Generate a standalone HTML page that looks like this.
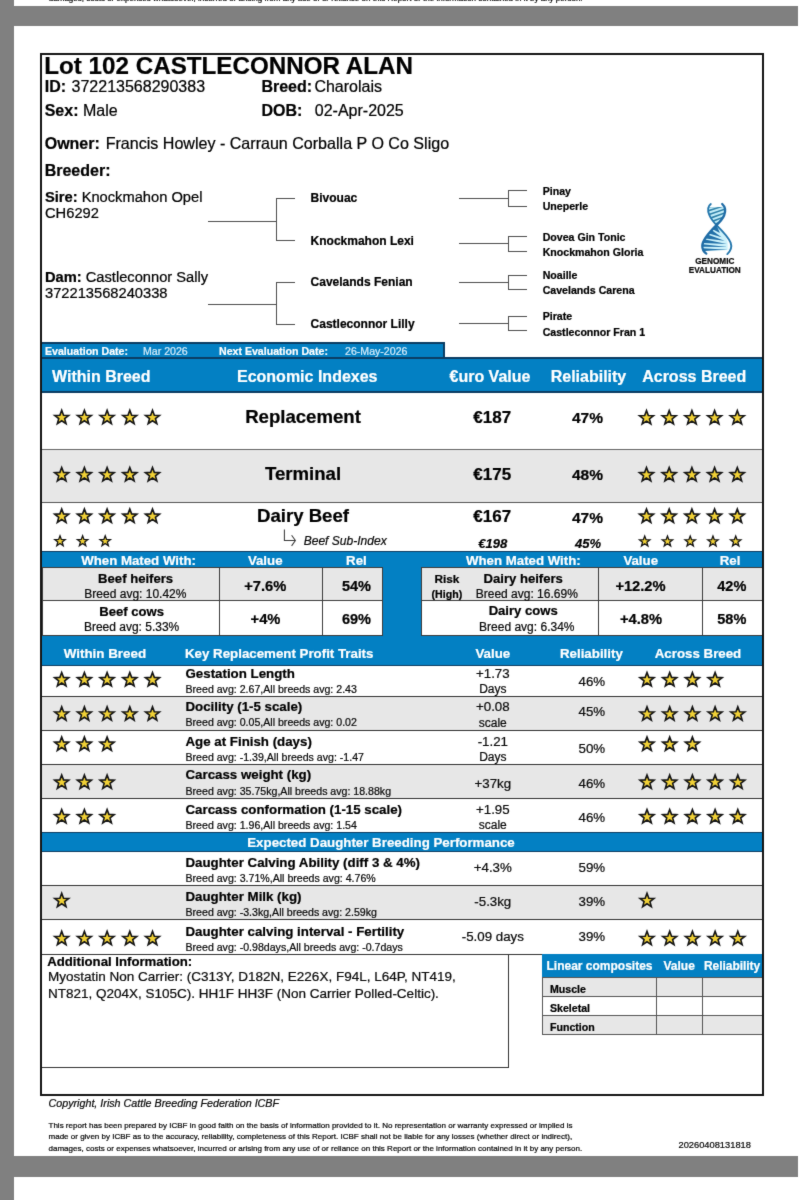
<!DOCTYPE html>
<html lang="en">
<head>
<meta charset="utf-8">
<title>Lot 102 CASTLECONNOR ALAN</title>
<style>
html,body{margin:0;padding:0;background:#fff;}
body{width:799px;height:1200px;position:relative;overflow:hidden;font-family:"Liberation Sans",sans-serif;color:#111;}
.a{position:absolute;}
.t{position:absolute;white-space:nowrap;line-height:1;}
svg{position:absolute;left:0;top:0;overflow:visible;}
#w{position:absolute;left:0;top:0;width:799px;height:1200px;filter:url(#soft);}
</style>
</head>
<body>
<svg width="0" height="0" style="position:absolute"><filter id="soft" filterUnits="userSpaceOnUse" x="-6" y="-6" width="811" height="1212" color-interpolation-filters="sRGB"><feConvolveMatrix order="3" kernelMatrix="0.015 0.07 0.015 0.07 0.66 0.07 0.015 0.07 0.015" edgeMode="duplicate" preserveAlpha="true"/></filter></svg>
<div id="w">
<div class="a" style="left:-8.00px;top:-8.00px;width:815.00px;height:1216.00px;background:#fff;"></div>
<div class="a" style="left:-8.00px;top:-8.00px;width:22.00px;height:1216.00px;background:#808080;"></div>
<div class="a" style="left:-8.00px;top:6.00px;width:806.00px;height:20.00px;background:#808080;"></div>
<div class="a" style="left:-8.00px;top:1156.00px;width:806.00px;height:21.00px;background:#808080;"></div>
<div class="a" style="left:14.00px;top:6.00px;width:784.00px;height:20.00px;background:#808080;"></div>
<div class="a" style="left:208.00px;top:221.00px;width:69.00px;height:1.00px;background:#4d4d4d;"></div>
<div class="a" style="left:276.00px;top:198.00px;width:1.00px;height:43.00px;background:#4d4d4d;"></div>
<div class="a" style="left:277.00px;top:198.00px;width:18.00px;height:1.00px;background:#4d4d4d;"></div>
<div class="a" style="left:277.00px;top:240.00px;width:18.00px;height:1.00px;background:#4d4d4d;"></div>
<div class="a" style="left:208.00px;top:304.00px;width:69.00px;height:1.00px;background:#4d4d4d;"></div>
<div class="a" style="left:276.00px;top:282.00px;width:1.00px;height:43.00px;background:#4d4d4d;"></div>
<div class="a" style="left:277.00px;top:282.00px;width:18.00px;height:1.00px;background:#4d4d4d;"></div>
<div class="a" style="left:277.00px;top:324.00px;width:18.00px;height:1.00px;background:#4d4d4d;"></div>
<div class="a" style="left:459.00px;top:198.00px;width:49.00px;height:1.00px;background:#4d4d4d;"></div>
<div class="a" style="left:508.00px;top:190.00px;width:1.00px;height:16.00px;background:#4d4d4d;"></div>
<div class="a" style="left:508.00px;top:190.00px;width:19.00px;height:1.00px;background:#4d4d4d;"></div>
<div class="a" style="left:508.00px;top:206.00px;width:19.00px;height:1.00px;background:#4d4d4d;"></div>
<div class="a" style="left:459.00px;top:243.00px;width:49.00px;height:1.00px;background:#4d4d4d;"></div>
<div class="a" style="left:508.00px;top:236.00px;width:1.00px;height:16.00px;background:#4d4d4d;"></div>
<div class="a" style="left:508.00px;top:236.00px;width:19.00px;height:1.00px;background:#4d4d4d;"></div>
<div class="a" style="left:508.00px;top:251.00px;width:19.00px;height:1.00px;background:#4d4d4d;"></div>
<div class="a" style="left:459.00px;top:282.00px;width:49.00px;height:1.00px;background:#4d4d4d;"></div>
<div class="a" style="left:508.00px;top:275.00px;width:1.00px;height:15.00px;background:#4d4d4d;"></div>
<div class="a" style="left:508.00px;top:275.00px;width:19.00px;height:1.00px;background:#4d4d4d;"></div>
<div class="a" style="left:508.00px;top:289.00px;width:19.00px;height:1.00px;background:#4d4d4d;"></div>
<div class="a" style="left:459.00px;top:323.00px;width:49.00px;height:1.00px;background:#4d4d4d;"></div>
<div class="a" style="left:508.00px;top:316.00px;width:1.00px;height:15.00px;background:#4d4d4d;"></div>
<div class="a" style="left:508.00px;top:316.00px;width:19.00px;height:1.00px;background:#4d4d4d;"></div>
<div class="a" style="left:508.00px;top:330.00px;width:19.00px;height:1.00px;background:#4d4d4d;"></div>
<div class="a" style="left:42.00px;top:342.00px;width:403.00px;height:17.00px;background:#0b3d63;"></div>
<div class="a" style="left:42.00px;top:344.00px;width:401.00px;height:13.00px;background:#0380c3;"></div>
<div class="a" style="left:42.00px;top:358.00px;width:721.00px;height:35.00px;background:#0380c3;"></div>
<div class="a" style="left:42.00px;top:357.00px;width:721.00px;height:1.50px;background:#0b3d63;"></div>
<div class="a" style="left:42.00px;top:391.00px;width:721.00px;height:2.00px;background:#0b3d63;"></div>
<div class="a" style="left:42.00px;top:449.00px;width:720.00px;height:53.00px;background:#e7e7e7;"></div>
<div class="a" style="left:42.00px;top:449.00px;width:720.00px;height:1.00px;background:#666;"></div>
<div class="a" style="left:42.00px;top:502.00px;width:720.00px;height:1.00px;background:#555;"></div>
<div class="a" style="left:42.00px;top:551.00px;width:721.00px;height:115.00px;background:#0380c3;"></div>
<div class="a" style="left:42.00px;top:551.00px;width:721.00px;height:1.00px;background:#0b3d63;"></div>
<div class="a" style="left:42.00px;top:567.00px;width:340.00px;height:33.00px;background:#e7e7e7;"></div>
<div class="a" style="left:42.00px;top:600.00px;width:340.00px;height:35.00px;background:#fff;"></div>
<div class="a" style="left:42.00px;top:567.00px;width:341.00px;height:1.00px;background:#3c3c3c;"></div>
<div class="a" style="left:42.00px;top:600.00px;width:341.00px;height:1.00px;background:#3c3c3c;"></div>
<div class="a" style="left:42.00px;top:635.00px;width:341.00px;height:1.00px;background:#3c3c3c;"></div>
<div class="a" style="left:42.00px;top:567.00px;width:1.00px;height:69.00px;background:#3c3c3c;"></div>
<div class="a" style="left:219.00px;top:567.00px;width:1.00px;height:69.00px;background:#3c3c3c;"></div>
<div class="a" style="left:322.00px;top:567.00px;width:1.00px;height:69.00px;background:#3c3c3c;"></div>
<div class="a" style="left:382.00px;top:567.00px;width:1.00px;height:69.00px;background:#3c3c3c;"></div>
<div class="a" style="left:421.00px;top:567.00px;width:341.00px;height:33.00px;background:#e7e7e7;"></div>
<div class="a" style="left:421.00px;top:600.00px;width:341.00px;height:35.00px;background:#fff;"></div>
<div class="a" style="left:421.00px;top:567.00px;width:342.00px;height:1.00px;background:#3c3c3c;"></div>
<div class="a" style="left:421.00px;top:600.00px;width:342.00px;height:1.00px;background:#3c3c3c;"></div>
<div class="a" style="left:421.00px;top:635.00px;width:342.00px;height:1.00px;background:#3c3c3c;"></div>
<div class="a" style="left:421.00px;top:567.00px;width:1.00px;height:69.00px;background:#3c3c3c;"></div>
<div class="a" style="left:598.00px;top:567.00px;width:1.00px;height:69.00px;background:#3c3c3c;"></div>
<div class="a" style="left:702.00px;top:567.00px;width:1.00px;height:69.00px;background:#3c3c3c;"></div>
<div class="a" style="left:762.00px;top:567.00px;width:1.00px;height:69.00px;background:#3c3c3c;"></div>
<div class="a" style="left:42.00px;top:665.50px;width:720.00px;height:167.00px;background:#fff;"></div>
<div class="a" style="left:42.00px;top:696.30px;width:720.00px;height:33.80px;background:#e7e7e7;"></div>
<div class="a" style="left:42.00px;top:764.50px;width:720.00px;height:33.90px;background:#e7e7e7;"></div>
<div class="a" style="left:42.00px;top:696.00px;width:720.00px;height:1.00px;background:#333;"></div>
<div class="a" style="left:42.00px;top:730.00px;width:720.00px;height:1.00px;background:#333;"></div>
<div class="a" style="left:42.00px;top:764.00px;width:720.00px;height:1.00px;background:#333;"></div>
<div class="a" style="left:42.00px;top:798.00px;width:720.00px;height:1.00px;background:#333;"></div>
<div class="a" style="left:42.00px;top:665.00px;width:720.00px;height:1.00px;background:#0b3d63;"></div>
<div class="a" style="left:42.00px;top:832.00px;width:721.00px;height:20.00px;background:#0380c3;"></div>
<div class="a" style="left:42.00px;top:832.00px;width:721.00px;height:1.00px;background:#0b3d63;"></div>
<div class="a" style="left:42.00px;top:851.00px;width:721.00px;height:1.00px;background:#0b3d63;"></div>
<div class="a" style="left:42.00px;top:885.90px;width:720.00px;height:34.00px;background:#e7e7e7;"></div>
<div class="a" style="left:42.00px;top:885.00px;width:720.00px;height:1.00px;background:#333;"></div>
<div class="a" style="left:42.00px;top:919.00px;width:720.00px;height:1.00px;background:#333;"></div>
<div class="a" style="left:42.00px;top:954.00px;width:720.00px;height:1.00px;background:#333;"></div>
<div class="a" style="left:508.00px;top:954.00px;width:1.00px;height:114.00px;background:#333;"></div>
<div class="a" style="left:42.00px;top:1067.00px;width:467.00px;height:1.00px;background:#333;"></div>
<div class="a" style="left:542.00px;top:954.00px;width:221.00px;height:23.50px;background:#0380c3;"></div>
<div class="a" style="left:542.00px;top:977.00px;width:220.00px;height:19.00px;background:#e7e7e7;"></div>
<div class="a" style="left:542.00px;top:996.00px;width:220.00px;height:19.00px;background:#fff;"></div>
<div class="a" style="left:542.00px;top:1015.00px;width:220.00px;height:19.00px;background:#e7e7e7;"></div>
<div class="a" style="left:542.00px;top:977.00px;width:221.00px;height:1.00px;background:#555;"></div>
<div class="a" style="left:542.00px;top:996.00px;width:221.00px;height:1.00px;background:#555;"></div>
<div class="a" style="left:542.00px;top:1015.00px;width:221.00px;height:1.00px;background:#555;"></div>
<div class="a" style="left:542.00px;top:1034.00px;width:221.00px;height:1.00px;background:#555;"></div>
<div class="a" style="left:542.00px;top:977.00px;width:1.00px;height:58.00px;background:#555;"></div>
<div class="a" style="left:656.00px;top:977.00px;width:1.00px;height:58.00px;background:#555;"></div>
<div class="a" style="left:702.00px;top:977.00px;width:1.00px;height:58.00px;background:#555;"></div>
<div class="a" style="left:762.00px;top:977.00px;width:1.00px;height:58.00px;background:#555;"></div>
<div class="a" style="left:40.00px;top:53.00px;width:724.00px;height:1043.00px;border:2px solid #151515;box-sizing:border-box;"></div>
<svg width="799" height="1200" viewBox="0 0 799 1200" font-family="Liberation Sans, sans-serif" fill="#000">
<path d="M284.4 529.4 V540.5 H295.0 M291.6 535.2 L295.4 540.5 L291.6 545.9" fill="none" stroke="#3a3a3a" stroke-width="1.05"/>
<polygon points="61.70,410.31 63.53,415.19 68.74,415.42 64.66,418.67 66.05,423.69 61.70,420.81 57.35,423.69 58.74,418.67 54.66,415.42 59.87,415.19" fill="#f1d136" stroke="#141414" stroke-width="1.6" stroke-linejoin="miter"/>
<polygon points="84.40,410.31 86.23,415.19 91.44,415.42 87.36,418.67 88.75,423.69 84.40,420.81 80.05,423.69 81.44,418.67 77.36,415.42 82.57,415.19" fill="#f1d136" stroke="#141414" stroke-width="1.6" stroke-linejoin="miter"/>
<polygon points="107.10,410.31 108.93,415.19 114.14,415.42 110.06,418.67 111.45,423.69 107.10,420.81 102.75,423.69 104.14,418.67 100.06,415.42 105.27,415.19" fill="#f1d136" stroke="#141414" stroke-width="1.6" stroke-linejoin="miter"/>
<polygon points="129.80,410.31 131.63,415.19 136.84,415.42 132.76,418.67 134.15,423.69 129.80,420.81 125.45,423.69 126.84,418.67 122.76,415.42 127.97,415.19" fill="#f1d136" stroke="#141414" stroke-width="1.6" stroke-linejoin="miter"/>
<polygon points="152.50,410.31 154.33,415.19 159.54,415.42 155.46,418.67 156.85,423.69 152.50,420.81 148.15,423.69 149.54,418.67 145.46,415.42 150.67,415.19" fill="#f1d136" stroke="#141414" stroke-width="1.6" stroke-linejoin="miter"/>
<polygon points="646.50,410.61 648.33,415.49 653.54,415.72 649.46,418.97 650.85,423.99 646.50,421.11 642.15,423.99 643.54,418.97 639.46,415.72 644.67,415.49" fill="#f1d136" stroke="#141414" stroke-width="1.6" stroke-linejoin="miter"/>
<polygon points="669.20,410.61 671.03,415.49 676.24,415.72 672.16,418.97 673.55,423.99 669.20,421.11 664.85,423.99 666.24,418.97 662.16,415.72 667.37,415.49" fill="#f1d136" stroke="#141414" stroke-width="1.6" stroke-linejoin="miter"/>
<polygon points="691.90,410.61 693.73,415.49 698.94,415.72 694.86,418.97 696.25,423.99 691.90,421.11 687.55,423.99 688.94,418.97 684.86,415.72 690.07,415.49" fill="#f1d136" stroke="#141414" stroke-width="1.6" stroke-linejoin="miter"/>
<polygon points="714.60,410.61 716.43,415.49 721.64,415.72 717.56,418.97 718.95,423.99 714.60,421.11 710.25,423.99 711.64,418.97 707.56,415.72 712.77,415.49" fill="#f1d136" stroke="#141414" stroke-width="1.6" stroke-linejoin="miter"/>
<polygon points="737.30,410.61 739.13,415.49 744.34,415.72 740.26,418.97 741.65,423.99 737.30,421.11 732.95,423.99 734.34,418.97 730.26,415.72 735.47,415.49" fill="#f1d136" stroke="#141414" stroke-width="1.6" stroke-linejoin="miter"/>
<polygon points="61.70,467.51 63.53,472.39 68.74,472.62 64.66,475.87 66.05,480.89 61.70,478.01 57.35,480.89 58.74,475.87 54.66,472.62 59.87,472.39" fill="#f1d136" stroke="#141414" stroke-width="1.6" stroke-linejoin="miter"/>
<polygon points="84.40,467.51 86.23,472.39 91.44,472.62 87.36,475.87 88.75,480.89 84.40,478.01 80.05,480.89 81.44,475.87 77.36,472.62 82.57,472.39" fill="#f1d136" stroke="#141414" stroke-width="1.6" stroke-linejoin="miter"/>
<polygon points="107.10,467.51 108.93,472.39 114.14,472.62 110.06,475.87 111.45,480.89 107.10,478.01 102.75,480.89 104.14,475.87 100.06,472.62 105.27,472.39" fill="#f1d136" stroke="#141414" stroke-width="1.6" stroke-linejoin="miter"/>
<polygon points="129.80,467.51 131.63,472.39 136.84,472.62 132.76,475.87 134.15,480.89 129.80,478.01 125.45,480.89 126.84,475.87 122.76,472.62 127.97,472.39" fill="#f1d136" stroke="#141414" stroke-width="1.6" stroke-linejoin="miter"/>
<polygon points="152.50,467.51 154.33,472.39 159.54,472.62 155.46,475.87 156.85,480.89 152.50,478.01 148.15,480.89 149.54,475.87 145.46,472.62 150.67,472.39" fill="#f1d136" stroke="#141414" stroke-width="1.6" stroke-linejoin="miter"/>
<polygon points="646.50,467.51 648.33,472.39 653.54,472.62 649.46,475.87 650.85,480.89 646.50,478.01 642.15,480.89 643.54,475.87 639.46,472.62 644.67,472.39" fill="#f1d136" stroke="#141414" stroke-width="1.6" stroke-linejoin="miter"/>
<polygon points="669.20,467.51 671.03,472.39 676.24,472.62 672.16,475.87 673.55,480.89 669.20,478.01 664.85,480.89 666.24,475.87 662.16,472.62 667.37,472.39" fill="#f1d136" stroke="#141414" stroke-width="1.6" stroke-linejoin="miter"/>
<polygon points="691.90,467.51 693.73,472.39 698.94,472.62 694.86,475.87 696.25,480.89 691.90,478.01 687.55,480.89 688.94,475.87 684.86,472.62 690.07,472.39" fill="#f1d136" stroke="#141414" stroke-width="1.6" stroke-linejoin="miter"/>
<polygon points="714.60,467.51 716.43,472.39 721.64,472.62 717.56,475.87 718.95,480.89 714.60,478.01 710.25,480.89 711.64,475.87 707.56,472.62 712.77,472.39" fill="#f1d136" stroke="#141414" stroke-width="1.6" stroke-linejoin="miter"/>
<polygon points="737.30,467.51 739.13,472.39 744.34,472.62 740.26,475.87 741.65,480.89 737.30,478.01 732.95,480.89 734.34,475.87 730.26,472.62 735.47,472.39" fill="#f1d136" stroke="#141414" stroke-width="1.6" stroke-linejoin="miter"/>
<polygon points="61.70,509.01 63.53,513.89 68.74,514.12 64.66,517.37 66.05,522.39 61.70,519.51 57.35,522.39 58.74,517.37 54.66,514.12 59.87,513.89" fill="#f1d136" stroke="#141414" stroke-width="1.6" stroke-linejoin="miter"/>
<polygon points="84.40,509.01 86.23,513.89 91.44,514.12 87.36,517.37 88.75,522.39 84.40,519.51 80.05,522.39 81.44,517.37 77.36,514.12 82.57,513.89" fill="#f1d136" stroke="#141414" stroke-width="1.6" stroke-linejoin="miter"/>
<polygon points="107.10,509.01 108.93,513.89 114.14,514.12 110.06,517.37 111.45,522.39 107.10,519.51 102.75,522.39 104.14,517.37 100.06,514.12 105.27,513.89" fill="#f1d136" stroke="#141414" stroke-width="1.6" stroke-linejoin="miter"/>
<polygon points="129.80,509.01 131.63,513.89 136.84,514.12 132.76,517.37 134.15,522.39 129.80,519.51 125.45,522.39 126.84,517.37 122.76,514.12 127.97,513.89" fill="#f1d136" stroke="#141414" stroke-width="1.6" stroke-linejoin="miter"/>
<polygon points="152.50,509.01 154.33,513.89 159.54,514.12 155.46,517.37 156.85,522.39 152.50,519.51 148.15,522.39 149.54,517.37 145.46,514.12 150.67,513.89" fill="#f1d136" stroke="#141414" stroke-width="1.6" stroke-linejoin="miter"/>
<polygon points="646.50,509.01 648.33,513.89 653.54,514.12 649.46,517.37 650.85,522.39 646.50,519.51 642.15,522.39 643.54,517.37 639.46,514.12 644.67,513.89" fill="#f1d136" stroke="#141414" stroke-width="1.6" stroke-linejoin="miter"/>
<polygon points="669.20,509.01 671.03,513.89 676.24,514.12 672.16,517.37 673.55,522.39 669.20,519.51 664.85,522.39 666.24,517.37 662.16,514.12 667.37,513.89" fill="#f1d136" stroke="#141414" stroke-width="1.6" stroke-linejoin="miter"/>
<polygon points="691.90,509.01 693.73,513.89 698.94,514.12 694.86,517.37 696.25,522.39 691.90,519.51 687.55,522.39 688.94,517.37 684.86,514.12 690.07,513.89" fill="#f1d136" stroke="#141414" stroke-width="1.6" stroke-linejoin="miter"/>
<polygon points="714.60,509.01 716.43,513.89 721.64,514.12 717.56,517.37 718.95,522.39 714.60,519.51 710.25,522.39 711.64,517.37 707.56,514.12 712.77,513.89" fill="#f1d136" stroke="#141414" stroke-width="1.6" stroke-linejoin="miter"/>
<polygon points="737.30,509.01 739.13,513.89 744.34,514.12 740.26,517.37 741.65,522.39 737.30,519.51 732.95,522.39 734.34,517.37 730.26,514.12 735.47,513.89" fill="#f1d136" stroke="#141414" stroke-width="1.6" stroke-linejoin="miter"/>
<polygon points="60.00,535.77 61.35,539.37 65.18,539.54 62.18,541.93 63.20,545.63 60.00,543.51 56.80,545.63 57.82,541.93 54.82,539.54 58.65,539.37" fill="#f1d136" stroke="#141414" stroke-width="1.3" stroke-linejoin="miter"/>
<polygon points="82.60,535.77 83.95,539.37 87.78,539.54 84.78,541.93 85.80,545.63 82.60,543.51 79.40,545.63 80.42,541.93 77.42,539.54 81.25,539.37" fill="#f1d136" stroke="#141414" stroke-width="1.3" stroke-linejoin="miter"/>
<polygon points="105.20,535.77 106.55,539.37 110.38,539.54 107.38,541.93 108.40,545.63 105.20,543.51 102.00,545.63 103.02,541.93 100.02,539.54 103.85,539.37" fill="#f1d136" stroke="#141414" stroke-width="1.3" stroke-linejoin="miter"/>
<polygon points="644.70,536.07 646.05,539.67 649.88,539.84 646.88,542.23 647.90,545.93 644.70,543.81 641.50,545.93 642.52,542.23 639.52,539.84 643.35,539.67" fill="#f1d136" stroke="#141414" stroke-width="1.3" stroke-linejoin="miter"/>
<polygon points="667.45,536.07 668.80,539.67 672.63,539.84 669.63,542.23 670.65,545.93 667.45,543.81 664.25,545.93 665.27,542.23 662.27,539.84 666.10,539.67" fill="#f1d136" stroke="#141414" stroke-width="1.3" stroke-linejoin="miter"/>
<polygon points="690.20,536.07 691.55,539.67 695.38,539.84 692.38,542.23 693.40,545.93 690.20,543.81 687.00,545.93 688.02,542.23 685.02,539.84 688.85,539.67" fill="#f1d136" stroke="#141414" stroke-width="1.3" stroke-linejoin="miter"/>
<polygon points="712.95,536.07 714.30,539.67 718.13,539.84 715.13,542.23 716.15,545.93 712.95,543.81 709.75,545.93 710.77,542.23 707.77,539.84 711.60,539.67" fill="#f1d136" stroke="#141414" stroke-width="1.3" stroke-linejoin="miter"/>
<polygon points="735.70,536.07 737.05,539.67 740.88,539.84 737.88,542.23 738.90,545.93 735.70,543.81 732.50,545.93 733.52,542.23 730.52,539.84 734.35,539.67" fill="#f1d136" stroke="#141414" stroke-width="1.3" stroke-linejoin="miter"/>
<polygon points="61.70,672.51 63.53,677.39 68.74,677.62 64.66,680.87 66.05,685.89 61.70,683.01 57.35,685.89 58.74,680.87 54.66,677.62 59.87,677.39" fill="#f1d136" stroke="#141414" stroke-width="1.6" stroke-linejoin="miter"/>
<polygon points="84.40,672.51 86.23,677.39 91.44,677.62 87.36,680.87 88.75,685.89 84.40,683.01 80.05,685.89 81.44,680.87 77.36,677.62 82.57,677.39" fill="#f1d136" stroke="#141414" stroke-width="1.6" stroke-linejoin="miter"/>
<polygon points="107.10,672.51 108.93,677.39 114.14,677.62 110.06,680.87 111.45,685.89 107.10,683.01 102.75,685.89 104.14,680.87 100.06,677.62 105.27,677.39" fill="#f1d136" stroke="#141414" stroke-width="1.6" stroke-linejoin="miter"/>
<polygon points="129.80,672.51 131.63,677.39 136.84,677.62 132.76,680.87 134.15,685.89 129.80,683.01 125.45,685.89 126.84,680.87 122.76,677.62 127.97,677.39" fill="#f1d136" stroke="#141414" stroke-width="1.6" stroke-linejoin="miter"/>
<polygon points="152.50,672.51 154.33,677.39 159.54,677.62 155.46,680.87 156.85,685.89 152.50,683.01 148.15,685.89 149.54,680.87 145.46,677.62 150.67,677.39" fill="#f1d136" stroke="#141414" stroke-width="1.6" stroke-linejoin="miter"/>
<polygon points="647.00,672.51 648.83,677.39 654.04,677.62 649.96,680.87 651.35,685.89 647.00,683.01 642.65,685.89 644.04,680.87 639.96,677.62 645.17,677.39" fill="#f1d136" stroke="#141414" stroke-width="1.6" stroke-linejoin="miter"/>
<polygon points="669.70,672.51 671.53,677.39 676.74,677.62 672.66,680.87 674.05,685.89 669.70,683.01 665.35,685.89 666.74,680.87 662.66,677.62 667.87,677.39" fill="#f1d136" stroke="#141414" stroke-width="1.6" stroke-linejoin="miter"/>
<polygon points="692.40,672.51 694.23,677.39 699.44,677.62 695.36,680.87 696.75,685.89 692.40,683.01 688.05,685.89 689.44,680.87 685.36,677.62 690.57,677.39" fill="#f1d136" stroke="#141414" stroke-width="1.6" stroke-linejoin="miter"/>
<polygon points="715.10,672.51 716.93,677.39 722.14,677.62 718.06,680.87 719.45,685.89 715.10,683.01 710.75,685.89 712.14,680.87 708.06,677.62 713.27,677.39" fill="#f1d136" stroke="#141414" stroke-width="1.6" stroke-linejoin="miter"/>
<polygon points="61.70,706.81 63.53,711.69 68.74,711.92 64.66,715.17 66.05,720.19 61.70,717.31 57.35,720.19 58.74,715.17 54.66,711.92 59.87,711.69" fill="#f1d136" stroke="#141414" stroke-width="1.6" stroke-linejoin="miter"/>
<polygon points="84.40,706.81 86.23,711.69 91.44,711.92 87.36,715.17 88.75,720.19 84.40,717.31 80.05,720.19 81.44,715.17 77.36,711.92 82.57,711.69" fill="#f1d136" stroke="#141414" stroke-width="1.6" stroke-linejoin="miter"/>
<polygon points="107.10,706.81 108.93,711.69 114.14,711.92 110.06,715.17 111.45,720.19 107.10,717.31 102.75,720.19 104.14,715.17 100.06,711.92 105.27,711.69" fill="#f1d136" stroke="#141414" stroke-width="1.6" stroke-linejoin="miter"/>
<polygon points="129.80,706.81 131.63,711.69 136.84,711.92 132.76,715.17 134.15,720.19 129.80,717.31 125.45,720.19 126.84,715.17 122.76,711.92 127.97,711.69" fill="#f1d136" stroke="#141414" stroke-width="1.6" stroke-linejoin="miter"/>
<polygon points="152.50,706.81 154.33,711.69 159.54,711.92 155.46,715.17 156.85,720.19 152.50,717.31 148.15,720.19 149.54,715.17 145.46,711.92 150.67,711.69" fill="#f1d136" stroke="#141414" stroke-width="1.6" stroke-linejoin="miter"/>
<polygon points="647.00,706.81 648.83,711.69 654.04,711.92 649.96,715.17 651.35,720.19 647.00,717.31 642.65,720.19 644.04,715.17 639.96,711.92 645.17,711.69" fill="#f1d136" stroke="#141414" stroke-width="1.6" stroke-linejoin="miter"/>
<polygon points="669.70,706.81 671.53,711.69 676.74,711.92 672.66,715.17 674.05,720.19 669.70,717.31 665.35,720.19 666.74,715.17 662.66,711.92 667.87,711.69" fill="#f1d136" stroke="#141414" stroke-width="1.6" stroke-linejoin="miter"/>
<polygon points="692.40,706.81 694.23,711.69 699.44,711.92 695.36,715.17 696.75,720.19 692.40,717.31 688.05,720.19 689.44,715.17 685.36,711.92 690.57,711.69" fill="#f1d136" stroke="#141414" stroke-width="1.6" stroke-linejoin="miter"/>
<polygon points="715.10,706.81 716.93,711.69 722.14,711.92 718.06,715.17 719.45,720.19 715.10,717.31 710.75,720.19 712.14,715.17 708.06,711.92 713.27,711.69" fill="#f1d136" stroke="#141414" stroke-width="1.6" stroke-linejoin="miter"/>
<polygon points="737.80,706.81 739.63,711.69 744.84,711.92 740.76,715.17 742.15,720.19 737.80,717.31 733.45,720.19 734.84,715.17 730.76,711.92 735.97,711.69" fill="#f1d136" stroke="#141414" stroke-width="1.6" stroke-linejoin="miter"/>
<polygon points="61.70,737.01 63.53,741.89 68.74,742.12 64.66,745.37 66.05,750.39 61.70,747.51 57.35,750.39 58.74,745.37 54.66,742.12 59.87,741.89" fill="#f1d136" stroke="#141414" stroke-width="1.6" stroke-linejoin="miter"/>
<polygon points="84.40,737.01 86.23,741.89 91.44,742.12 87.36,745.37 88.75,750.39 84.40,747.51 80.05,750.39 81.44,745.37 77.36,742.12 82.57,741.89" fill="#f1d136" stroke="#141414" stroke-width="1.6" stroke-linejoin="miter"/>
<polygon points="107.10,737.01 108.93,741.89 114.14,742.12 110.06,745.37 111.45,750.39 107.10,747.51 102.75,750.39 104.14,745.37 100.06,742.12 105.27,741.89" fill="#f1d136" stroke="#141414" stroke-width="1.6" stroke-linejoin="miter"/>
<polygon points="647.00,737.01 648.83,741.89 654.04,742.12 649.96,745.37 651.35,750.39 647.00,747.51 642.65,750.39 644.04,745.37 639.96,742.12 645.17,741.89" fill="#f1d136" stroke="#141414" stroke-width="1.6" stroke-linejoin="miter"/>
<polygon points="669.70,737.01 671.53,741.89 676.74,742.12 672.66,745.37 674.05,750.39 669.70,747.51 665.35,750.39 666.74,745.37 662.66,742.12 667.87,741.89" fill="#f1d136" stroke="#141414" stroke-width="1.6" stroke-linejoin="miter"/>
<polygon points="692.40,737.01 694.23,741.89 699.44,742.12 695.36,745.37 696.75,750.39 692.40,747.51 688.05,750.39 689.44,745.37 685.36,742.12 690.57,741.89" fill="#f1d136" stroke="#141414" stroke-width="1.6" stroke-linejoin="miter"/>
<polygon points="61.70,775.01 63.53,779.89 68.74,780.12 64.66,783.37 66.05,788.39 61.70,785.51 57.35,788.39 58.74,783.37 54.66,780.12 59.87,779.89" fill="#f1d136" stroke="#141414" stroke-width="1.6" stroke-linejoin="miter"/>
<polygon points="84.40,775.01 86.23,779.89 91.44,780.12 87.36,783.37 88.75,788.39 84.40,785.51 80.05,788.39 81.44,783.37 77.36,780.12 82.57,779.89" fill="#f1d136" stroke="#141414" stroke-width="1.6" stroke-linejoin="miter"/>
<polygon points="107.10,775.01 108.93,779.89 114.14,780.12 110.06,783.37 111.45,788.39 107.10,785.51 102.75,788.39 104.14,783.37 100.06,780.12 105.27,779.89" fill="#f1d136" stroke="#141414" stroke-width="1.6" stroke-linejoin="miter"/>
<polygon points="647.00,775.01 648.83,779.89 654.04,780.12 649.96,783.37 651.35,788.39 647.00,785.51 642.65,788.39 644.04,783.37 639.96,780.12 645.17,779.89" fill="#f1d136" stroke="#141414" stroke-width="1.6" stroke-linejoin="miter"/>
<polygon points="669.70,775.01 671.53,779.89 676.74,780.12 672.66,783.37 674.05,788.39 669.70,785.51 665.35,788.39 666.74,783.37 662.66,780.12 667.87,779.89" fill="#f1d136" stroke="#141414" stroke-width="1.6" stroke-linejoin="miter"/>
<polygon points="692.40,775.01 694.23,779.89 699.44,780.12 695.36,783.37 696.75,788.39 692.40,785.51 688.05,788.39 689.44,783.37 685.36,780.12 690.57,779.89" fill="#f1d136" stroke="#141414" stroke-width="1.6" stroke-linejoin="miter"/>
<polygon points="715.10,775.01 716.93,779.89 722.14,780.12 718.06,783.37 719.45,788.39 715.10,785.51 710.75,788.39 712.14,783.37 708.06,780.12 713.27,779.89" fill="#f1d136" stroke="#141414" stroke-width="1.6" stroke-linejoin="miter"/>
<polygon points="737.80,775.01 739.63,779.89 744.84,780.12 740.76,783.37 742.15,788.39 737.80,785.51 733.45,788.39 734.84,783.37 730.76,780.12 735.97,779.89" fill="#f1d136" stroke="#141414" stroke-width="1.6" stroke-linejoin="miter"/>
<polygon points="61.70,809.51 63.53,814.39 68.74,814.62 64.66,817.87 66.05,822.89 61.70,820.01 57.35,822.89 58.74,817.87 54.66,814.62 59.87,814.39" fill="#f1d136" stroke="#141414" stroke-width="1.6" stroke-linejoin="miter"/>
<polygon points="84.40,809.51 86.23,814.39 91.44,814.62 87.36,817.87 88.75,822.89 84.40,820.01 80.05,822.89 81.44,817.87 77.36,814.62 82.57,814.39" fill="#f1d136" stroke="#141414" stroke-width="1.6" stroke-linejoin="miter"/>
<polygon points="107.10,809.51 108.93,814.39 114.14,814.62 110.06,817.87 111.45,822.89 107.10,820.01 102.75,822.89 104.14,817.87 100.06,814.62 105.27,814.39" fill="#f1d136" stroke="#141414" stroke-width="1.6" stroke-linejoin="miter"/>
<polygon points="647.00,809.51 648.83,814.39 654.04,814.62 649.96,817.87 651.35,822.89 647.00,820.01 642.65,822.89 644.04,817.87 639.96,814.62 645.17,814.39" fill="#f1d136" stroke="#141414" stroke-width="1.6" stroke-linejoin="miter"/>
<polygon points="669.70,809.51 671.53,814.39 676.74,814.62 672.66,817.87 674.05,822.89 669.70,820.01 665.35,822.89 666.74,817.87 662.66,814.62 667.87,814.39" fill="#f1d136" stroke="#141414" stroke-width="1.6" stroke-linejoin="miter"/>
<polygon points="692.40,809.51 694.23,814.39 699.44,814.62 695.36,817.87 696.75,822.89 692.40,820.01 688.05,822.89 689.44,817.87 685.36,814.62 690.57,814.39" fill="#f1d136" stroke="#141414" stroke-width="1.6" stroke-linejoin="miter"/>
<polygon points="715.10,809.51 716.93,814.39 722.14,814.62 718.06,817.87 719.45,822.89 715.10,820.01 710.75,822.89 712.14,817.87 708.06,814.62 713.27,814.39" fill="#f1d136" stroke="#141414" stroke-width="1.6" stroke-linejoin="miter"/>
<polygon points="737.80,809.51 739.63,814.39 744.84,814.62 740.76,817.87 742.15,822.89 737.80,820.01 733.45,822.89 734.84,817.87 730.76,814.62 735.97,814.39" fill="#f1d136" stroke="#141414" stroke-width="1.6" stroke-linejoin="miter"/>
<polygon points="61.70,893.31 63.53,898.19 68.74,898.42 64.66,901.67 66.05,906.69 61.70,903.81 57.35,906.69 58.74,901.67 54.66,898.42 59.87,898.19" fill="#f1d136" stroke="#141414" stroke-width="1.6" stroke-linejoin="miter"/>
<polygon points="647.00,893.31 648.83,898.19 654.04,898.42 649.96,901.67 651.35,906.69 647.00,903.81 642.65,906.69 644.04,901.67 639.96,898.42 645.17,898.19" fill="#f1d136" stroke="#141414" stroke-width="1.6" stroke-linejoin="miter"/>
<polygon points="61.70,931.31 63.53,936.19 68.74,936.42 64.66,939.67 66.05,944.69 61.70,941.81 57.35,944.69 58.74,939.67 54.66,936.42 59.87,936.19" fill="#f1d136" stroke="#141414" stroke-width="1.6" stroke-linejoin="miter"/>
<polygon points="84.40,931.31 86.23,936.19 91.44,936.42 87.36,939.67 88.75,944.69 84.40,941.81 80.05,944.69 81.44,939.67 77.36,936.42 82.57,936.19" fill="#f1d136" stroke="#141414" stroke-width="1.6" stroke-linejoin="miter"/>
<polygon points="107.10,931.31 108.93,936.19 114.14,936.42 110.06,939.67 111.45,944.69 107.10,941.81 102.75,944.69 104.14,939.67 100.06,936.42 105.27,936.19" fill="#f1d136" stroke="#141414" stroke-width="1.6" stroke-linejoin="miter"/>
<polygon points="129.80,931.31 131.63,936.19 136.84,936.42 132.76,939.67 134.15,944.69 129.80,941.81 125.45,944.69 126.84,939.67 122.76,936.42 127.97,936.19" fill="#f1d136" stroke="#141414" stroke-width="1.6" stroke-linejoin="miter"/>
<polygon points="152.50,931.31 154.33,936.19 159.54,936.42 155.46,939.67 156.85,944.69 152.50,941.81 148.15,944.69 149.54,939.67 145.46,936.42 150.67,936.19" fill="#f1d136" stroke="#141414" stroke-width="1.6" stroke-linejoin="miter"/>
<polygon points="647.00,931.31 648.83,936.19 654.04,936.42 649.96,939.67 651.35,944.69 647.00,941.81 642.65,944.69 644.04,939.67 639.96,936.42 645.17,936.19" fill="#f1d136" stroke="#141414" stroke-width="1.6" stroke-linejoin="miter"/>
<polygon points="669.70,931.31 671.53,936.19 676.74,936.42 672.66,939.67 674.05,944.69 669.70,941.81 665.35,944.69 666.74,939.67 662.66,936.42 667.87,936.19" fill="#f1d136" stroke="#141414" stroke-width="1.6" stroke-linejoin="miter"/>
<polygon points="692.40,931.31 694.23,936.19 699.44,936.42 695.36,939.67 696.75,944.69 692.40,941.81 688.05,944.69 689.44,939.67 685.36,936.42 690.57,936.19" fill="#f1d136" stroke="#141414" stroke-width="1.6" stroke-linejoin="miter"/>
<polygon points="715.10,931.31 716.93,936.19 722.14,936.42 718.06,939.67 719.45,944.69 715.10,941.81 710.75,944.69 712.14,939.67 708.06,936.42 713.27,936.19" fill="#f1d136" stroke="#141414" stroke-width="1.6" stroke-linejoin="miter"/>
<polygon points="737.80,931.31 739.63,936.19 744.84,936.42 740.76,939.67 742.15,944.69 737.80,941.81 733.45,944.69 734.84,939.67 730.76,936.42 735.97,936.19" fill="#f1d136" stroke="#141414" stroke-width="1.6" stroke-linejoin="miter"/>
<g transform="translate(0,8.6) scale(1,0.961)">
<clipPath id="cu"><path d="M708.2 207 C708.2 212.5 711 218.8 716.5 225.3 C722 219 725.8 212.5 725.3 206.2 Z"/></clipPath>
<clipPath id="cl"><path d="M716.5 225.3 C708 233.5 700.6 241.5 701.5 247.5 C702 250 703 251.5 704 252.3 L728.3 251.2 C730 243 723 232 716.5 225.3 Z"/></clipPath>
<g clip-path="url(#cu)"><rect x="700" y="200" width="40" height="30" fill="#2c7ea6"/>
<g stroke="#c4eef9" stroke-width="2.1" stroke-linecap="butt">
<line x1="707" y1="208.9" x2="727" y2="202.3"/>
<line x1="707" y1="212.9" x2="727" y2="206.1"/>
<line x1="709" y1="216.4" x2="727" y2="209.9"/>
<line x1="711" y1="219.8" x2="727" y2="213.7"/>
<line x1="713" y1="223.2" x2="727" y2="217.4"/>
</g></g>
<g clip-path="url(#cl)"><rect x="698" y="224" width="40" height="34" fill="#cdf2fb"/>
<g fill="#2270a8">
<path d="M716.5 225.3 L712.6 229.6 L719.9 233.6 Z"/>
<path d="M711.9 230.6 L708.9 234.1 L721.6 238.0 Z"/>
<path d="M708.2 235.2 L705.4 239.2 L724.6 241.7 Z"/>
<path d="M705.0 240.2 L703.2 243.8 L726.8 244.9 Z"/>
<path d="M702.8 245.2 L702.5 247.7 L727.6 248.1 Z"/>
<path d="M702.5 249.4 L703.4 252.4 L727.6 251.0 Z"/>
</g>
<rect x="727.7" y="230" width="6" height="26" fill="#fff"/>
</g>
<path d="M710.8 203.4 C707.6 205.8 707.6 210.5 709.4 215 C711 219 713.5 222 716.5 225.3 C722 231 728.5 238 730.6 243.5 C732 247.5 730.8 252 727.3 255.4" fill="none" stroke="#2477ad" stroke-width="1.9" stroke-linecap="round"/>
<path d="M722.2 203.3 C725.6 206.5 725.8 210.5 724.2 215 C722.6 219 719.8 222 716.5 225.3 C709 233 702.5 240.5 702.3 246.8 C702.2 250.5 703.8 253.3 706.3 255.0" fill="none" stroke="#1f6ca6" stroke-width="2.3" stroke-linecap="round"/>
</g>
<g stroke="#000" stroke-width="0.22">
<text x="48.80" y="1.20" font-size="8.03" fill="#0a0a0a" stroke="#0a0a0a">damages, costs or expenses whatsoever, incurred or arising from any use of or reliance on this Report or the information contained in it by any person.</text>
<text x="44.30" y="73.50" font-size="24.2" font-weight="700">Lot 102 CASTLECONNOR ALAN</text>
<text x="44.70" y="91.80" font-size="16" font-weight="700">ID:</text>
<text x="71.55" y="91.80" font-size="16">372213568290383</text>
<text x="261.40" y="91.80" font-size="16"><tspan font-weight="700">Breed:</tspan></text>
<text x="314.40" y="91.80" font-size="16">Charolais</text>
<text x="44.70" y="115.80" font-size="16"><tspan font-weight="700">Sex:</tspan> Male</text>
<text x="261.40" y="115.80" font-size="16"><tspan font-weight="700">DOB:</tspan></text>
<text x="314.80" y="115.80" font-size="16">02-Apr-2025</text>
<text x="44.70" y="149.40" font-size="16" font-weight="700">Owner:</text>
<text x="105.70" y="149.40" font-size="16.07">Francis Howley - Carraun Corballa P O Co Sligo</text>
<text x="44.70" y="176.20" font-size="16" font-weight="700">Breeder:</text>
<text x="44.90" y="202.40" font-size="14.7"><tspan font-weight="700">Sire:</tspan> Knockmahon Opel</text>
<text x="45.00" y="217.60" font-size="14.7">CH6292</text>
<text x="44.90" y="282.30" font-size="14.7"><tspan font-weight="700">Dam:</tspan> Castleconnor Sally</text>
<text x="45.00" y="297.60" font-size="14.7">372213568240338</text>
<text x="310.60" y="202.40" font-size="12" font-weight="700">Bivouac</text>
<text x="310.60" y="244.80" font-size="12" font-weight="700">Knockmahon Lexi</text>
<text x="310.60" y="286.40" font-size="12" font-weight="700">Cavelands Fenian</text>
<text x="310.60" y="328.00" font-size="12" font-weight="700">Castleconnor Lilly</text>
<text x="542.70" y="195.00" font-size="10.6" font-weight="700">Pinay</text>
<text x="542.70" y="210.40" font-size="10.6" font-weight="700">Uneperle</text>
<text x="542.70" y="241.00" font-size="10.6" font-weight="700">Dovea Gin Tonic</text>
<text x="542.70" y="256.00" font-size="10.6" font-weight="700">Knockmahon Gloria</text>
<text x="542.70" y="279.10" font-size="10.6" font-weight="700">Noaille</text>
<text x="542.70" y="294.20" font-size="10.6" font-weight="700">Cavelands Carena</text>
<text x="542.70" y="320.30" font-size="10.6" font-weight="700">Pirate</text>
<text x="542.70" y="335.60" font-size="10.6" font-weight="700">Castleconnor Fran 1</text>
<text x="714.80" y="264.00" font-size="8.2" font-weight="700" fill="#0a0a0a" stroke="#0a0a0a" text-anchor="middle">GENOMIC</text>
<text x="714.80" y="273.40" font-size="8.2" font-weight="700" fill="#0a0a0a" stroke="#0a0a0a" text-anchor="middle">EVALUATION</text>
<text x="45.00" y="354.60" font-size="10.6" font-weight="700" fill="#fff" stroke="#fff">Evaluation Date:</text>
<text x="143.00" y="354.60" font-size="10.6" fill="#d6ecfa" stroke="#d6ecfa">Mar 2026</text>
<text x="219.00" y="354.60" font-size="10.6" font-weight="700" fill="#fff" stroke="#fff">Next Evaluation Date:</text>
<text x="345.00" y="354.60" font-size="10.6" fill="#d6ecfa" stroke="#d6ecfa">26-May-2026</text>
<text x="52.00" y="382.00" font-size="16" font-weight="700" fill="#fff" stroke="#fff">Within Breed</text>
<text x="237.00" y="382.00" font-size="16" font-weight="700" fill="#fff" stroke="#fff">Economic Indexes</text>
<text x="449.50" y="382.00" font-size="16" font-weight="700" fill="#fff" stroke="#fff">€uro Value</text>
<text x="550.70" y="382.00" font-size="16" font-weight="700" fill="#fff" stroke="#fff">Reliability</text>
<text x="642.20" y="382.00" font-size="16" font-weight="700" fill="#fff" stroke="#fff">Across Breed</text>
<text x="303.00" y="422.60" font-size="18.6" font-weight="700" text-anchor="middle">Replacement</text>
<text x="303.00" y="480.00" font-size="18.6" font-weight="700" text-anchor="middle">Terminal</text>
<text x="303.00" y="522.00" font-size="18.6" font-weight="700" text-anchor="middle">Dairy Beef</text>
<text x="492.20" y="422.60" font-size="17" font-weight="700" text-anchor="middle">€187</text>
<text x="492.20" y="479.80" font-size="17" font-weight="700" text-anchor="middle">€175</text>
<text x="492.20" y="522.00" font-size="17" font-weight="700" text-anchor="middle">€167</text>
<text x="587.50" y="423.00" font-size="15.5" font-weight="700" text-anchor="middle">47%</text>
<text x="587.50" y="480.00" font-size="15.5" font-weight="700" text-anchor="middle">48%</text>
<text x="587.50" y="522.50" font-size="15.5" font-weight="700" text-anchor="middle">47%</text>
<text x="492.80" y="547.50" font-size="13" font-weight="700" font-style="italic" text-anchor="middle">€198</text>
<text x="588.00" y="547.50" font-size="13" font-weight="700" font-style="italic" text-anchor="middle">45%</text>
<text x="303.70" y="544.50" font-size="12.05" font-style="italic" fill="#0a0a0a" stroke="#0a0a0a">Beef Sub-Index</text>
<text x="81.20" y="565.00" font-size="13.25" font-weight="700" fill="#fff" stroke="#fff">When Mated With:</text>
<text x="265.20" y="565.00" font-size="13.25" font-weight="700" fill="#fff" stroke="#fff" text-anchor="middle">Value</text>
<text x="356.40" y="565.00" font-size="13.25" font-weight="700" fill="#fff" stroke="#fff" text-anchor="middle">Rel</text>
<text x="466.00" y="565.00" font-size="13.25" font-weight="700" fill="#fff" stroke="#fff">When Mated With:</text>
<text x="640.70" y="565.00" font-size="13.25" font-weight="700" fill="#fff" stroke="#fff" text-anchor="middle">Value</text>
<text x="730.00" y="565.00" font-size="13.25" font-weight="700" fill="#fff" stroke="#fff" text-anchor="middle">Rel</text>
<text x="135.60" y="582.50" font-size="13.1" font-weight="700" text-anchor="middle">Beef heifers</text>
<text x="135.40" y="597.50" font-size="12" fill="#0a0a0a" stroke="#0a0a0a" text-anchor="middle">Breed avg: 10.42%</text>
<text x="131.70" y="615.70" font-size="13.1" font-weight="700" text-anchor="middle">Beef cows</text>
<text x="131.60" y="631.20" font-size="12" fill="#0a0a0a" stroke="#0a0a0a" text-anchor="middle">Breed avg: 5.33%</text>
<text x="265.30" y="591.00" font-size="14.7" font-weight="700" text-anchor="middle">+7.6%</text>
<text x="356.40" y="591.00" font-size="14.5" font-weight="700" text-anchor="middle">54%</text>
<text x="265.50" y="623.90" font-size="14.7" font-weight="700" text-anchor="middle">+4%</text>
<text x="356.40" y="623.90" font-size="14.5" font-weight="700" text-anchor="middle">69%</text>
<text x="446.90" y="582.60" font-size="11.8" font-weight="700" text-anchor="middle">Risk</text>
<text x="446.90" y="597.60" font-size="10.6" font-weight="700" text-anchor="middle">(High)</text>
<text x="523.20" y="582.60" font-size="13.1" font-weight="700" text-anchor="middle">Dairy heifers</text>
<text x="526.80" y="598.00" font-size="12" fill="#0a0a0a" stroke="#0a0a0a" text-anchor="middle">Breed avg: 16.69%</text>
<text x="523.20" y="615.20" font-size="13.1" font-weight="700" text-anchor="middle">Dairy cows</text>
<text x="526.80" y="631.20" font-size="12" fill="#0a0a0a" stroke="#0a0a0a" text-anchor="middle">Breed avg: 6.34%</text>
<text x="640.50" y="590.60" font-size="14.7" font-weight="700" text-anchor="middle">+12.2%</text>
<text x="731.80" y="590.60" font-size="14.5" font-weight="700" text-anchor="middle">42%</text>
<text x="641.00" y="624.00" font-size="14.7" font-weight="700" text-anchor="middle">+4.8%</text>
<text x="731.80" y="624.00" font-size="14.5" font-weight="700" text-anchor="middle">58%</text>
<text x="63.70" y="658.20" font-size="13.4" font-weight="700" fill="#fff" stroke="#fff">Within Breed</text>
<text x="185.00" y="658.20" font-size="13.3" font-weight="700" fill="#fff" stroke="#fff">Key Replacement Profit Traits</text>
<text x="492.80" y="658.20" font-size="13.3" font-weight="700" fill="#fff" stroke="#fff" text-anchor="middle">Value</text>
<text x="591.40" y="658.20" font-size="13.3" font-weight="700" fill="#fff" stroke="#fff" text-anchor="middle">Reliability</text>
<text x="698.00" y="658.20" font-size="13.3" font-weight="700" fill="#fff" stroke="#fff" text-anchor="middle">Across Breed</text>
<text x="185.50" y="677.50" font-size="13.3" font-weight="700">Gestation Length</text>
<text x="185.50" y="692.50" font-size="10.6" fill="#0a0a0a" stroke="#0a0a0a">Breed avg: 2.67,All breeds avg: 2.43</text>
<text x="492.80" y="677.50" font-size="13.3" fill="#0a0a0a" stroke="#0a0a0a" text-anchor="middle">+1.73</text>
<text x="492.80" y="693.00" font-size="12" fill="#0a0a0a" stroke="#0a0a0a" text-anchor="middle">Days</text>
<text x="591.80" y="685.80" font-size="13.3" fill="#0a0a0a" stroke="#0a0a0a" text-anchor="middle">46%</text>
<text x="185.50" y="711.20" font-size="13.3" font-weight="700">Docility (1-5 scale)</text>
<text x="185.50" y="726.20" font-size="10.6" fill="#0a0a0a" stroke="#0a0a0a">Breed avg: 0.05,All breeds avg: 0.02</text>
<text x="492.80" y="711.20" font-size="13.3" fill="#0a0a0a" stroke="#0a0a0a" text-anchor="middle">+0.08</text>
<text x="492.80" y="726.70" font-size="12" fill="#0a0a0a" stroke="#0a0a0a" text-anchor="middle">scale</text>
<text x="591.80" y="716.00" font-size="13.3" fill="#0a0a0a" stroke="#0a0a0a" text-anchor="middle">45%</text>
<text x="185.50" y="745.50" font-size="13.3" font-weight="700">Age at Finish (days)</text>
<text x="185.50" y="760.70" font-size="10.6" fill="#0a0a0a" stroke="#0a0a0a">Breed avg: -1.39,All breeds avg: -1.47</text>
<text x="492.80" y="745.50" font-size="13.3" fill="#0a0a0a" stroke="#0a0a0a" text-anchor="middle">-1.21</text>
<text x="492.80" y="761.00" font-size="12" fill="#0a0a0a" stroke="#0a0a0a" text-anchor="middle">Days</text>
<text x="591.80" y="752.50" font-size="13.3" fill="#0a0a0a" stroke="#0a0a0a" text-anchor="middle">50%</text>
<text x="185.50" y="779.20" font-size="13.3" font-weight="700">Carcass weight (kg)</text>
<text x="185.50" y="795.00" font-size="10.6" fill="#0a0a0a" stroke="#0a0a0a">Breed avg: 35.75kg,All breeds avg: 18.88kg</text>
<text x="492.80" y="787.50" font-size="13.3" fill="#0a0a0a" stroke="#0a0a0a" text-anchor="middle">+37kg</text>
<text x="591.80" y="787.50" font-size="13.3" fill="#0a0a0a" stroke="#0a0a0a" text-anchor="middle">46%</text>
<text x="185.50" y="813.70" font-size="13.3" font-weight="700">Carcass conformation (1-15 scale)</text>
<text x="185.50" y="828.70" font-size="10.6" fill="#0a0a0a" stroke="#0a0a0a">Breed avg: 1.96,All breeds avg: 1.54</text>
<text x="492.80" y="813.70" font-size="13.3" fill="#0a0a0a" stroke="#0a0a0a" text-anchor="middle">+1.95</text>
<text x="492.80" y="829.20" font-size="12" fill="#0a0a0a" stroke="#0a0a0a" text-anchor="middle">scale</text>
<text x="591.80" y="821.50" font-size="13.3" fill="#0a0a0a" stroke="#0a0a0a" text-anchor="middle">46%</text>
<text x="381.00" y="846.80" font-size="13.3" font-weight="700" fill="#fff" stroke="#fff" text-anchor="middle">Expected Daughter Breeding Performance</text>
<text x="185.50" y="866.70" font-size="13.3" font-weight="700">Daughter Calving Ability (diff 3 &amp; 4%)</text>
<text x="185.50" y="881.80" font-size="10.6" fill="#0a0a0a" stroke="#0a0a0a">Breed avg: 3.71%,All breeds avg: 4.76%</text>
<text x="492.80" y="871.50" font-size="13.3" fill="#0a0a0a" stroke="#0a0a0a" text-anchor="middle">+4.3%</text>
<text x="591.80" y="871.50" font-size="13.3" fill="#0a0a0a" stroke="#0a0a0a" text-anchor="middle">59%</text>
<text x="185.50" y="901.20" font-size="13.3" font-weight="700">Daughter Milk (kg)</text>
<text x="185.50" y="916.20" font-size="10.6" fill="#0a0a0a" stroke="#0a0a0a">Breed avg: -3.3kg,All breeds avg: 2.59kg</text>
<text x="492.80" y="905.50" font-size="13.3" fill="#0a0a0a" stroke="#0a0a0a" text-anchor="middle">-5.3kg</text>
<text x="591.80" y="905.50" font-size="13.3" fill="#0a0a0a" stroke="#0a0a0a" text-anchor="middle">39%</text>
<text x="185.50" y="935.50" font-size="13.3" font-weight="700">Daughter calving interval - Fertility</text>
<text x="185.50" y="950.70" font-size="10.6" fill="#0a0a0a" stroke="#0a0a0a">Breed avg: -0.98days,All breeds avg: -0.7days</text>
<text x="492.80" y="940.50" font-size="13.3" fill="#0a0a0a" stroke="#0a0a0a" text-anchor="middle">-5.09 days</text>
<text x="591.80" y="940.50" font-size="13.3" fill="#0a0a0a" stroke="#0a0a0a" text-anchor="middle">39%</text>
<text x="47.20" y="965.80" font-size="13.2" font-weight="700">Additional Information:</text>
<text x="48.00" y="981.30" font-size="13.5" fill="#0a0a0a" stroke="#0a0a0a">Myostatin Non Carrier: (C313Y, D182N, E226X, F94L, L64P, NT419,</text>
<text x="48.00" y="997.60" font-size="13.5" fill="#0a0a0a" stroke="#0a0a0a">NT821, Q204X, S105C). HH1F HH3F (Non Carrier Polled-Celtic).</text>
<text x="546.50" y="970.20" font-size="12" font-weight="700" fill="#fff" stroke="#fff">Linear composites</text>
<text x="663.50" y="970.20" font-size="12" font-weight="700" fill="#fff" stroke="#fff">Value</text>
<text x="704.00" y="970.20" font-size="12" font-weight="700" fill="#fff" stroke="#fff" letter-spacing="-0.05">Reliability</text>
<text x="550.00" y="993.00" font-size="10.6" font-weight="700">Muscle</text>
<text x="550.00" y="1012.00" font-size="10.6" font-weight="700">Skeletal</text>
<text x="550.00" y="1031.00" font-size="10.6" font-weight="700">Function</text>
<text x="48.50" y="1107.20" font-size="10.72" font-style="italic" fill="#0a0a0a" stroke="#0a0a0a">Copyright, Irish Cattle Breeding Federation ICBF</text>
<text x="48.50" y="1127.50" font-size="8.03" fill="#0a0a0a" stroke="#0a0a0a">This report has been prepared by ICBF in good faith on the basis of information provided to it. No representation or warranty expressed or implied is</text>
<text x="48.50" y="1139.00" font-size="8.03" fill="#0a0a0a" stroke="#0a0a0a">made or given by ICBF as to the accuracy, reliability, completeness of this Report. ICBF shall not be liable for any losses (whether direct or indirect),</text>
<text x="48.50" y="1150.50" font-size="8.03" fill="#0a0a0a" stroke="#0a0a0a">damages, costs or expenses whatsoever, incurred or arising from any use of or reliance on this Report or the information contained in it by any person.</text>
<text x="678.50" y="1148.40" font-size="9.3" fill="#0a0a0a" stroke="#0a0a0a">20260408131818</text>
</g>
</svg>
</div>
</body>
</html>
